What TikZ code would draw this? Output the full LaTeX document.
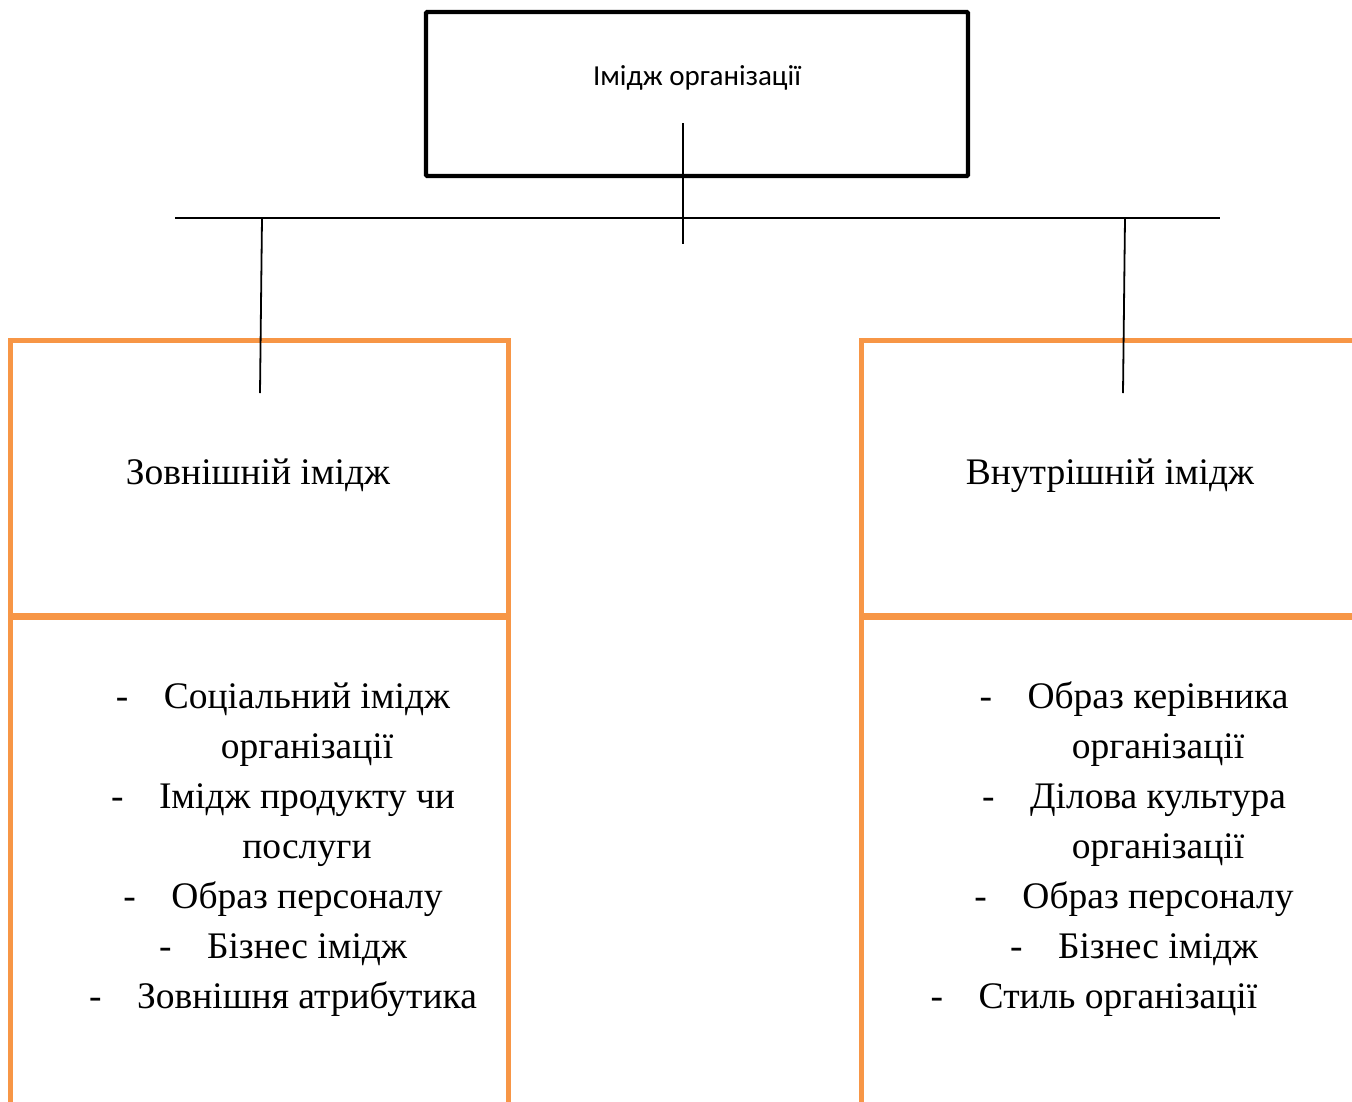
\documentclass[tikz,border=0pt]{standalone}
\usepackage{fontspec}
\setmainfont{Liberation Serif}
\newfontfamily\calfont{Carlito}
\usetikzlibrary{calc}
\definecolor{orng}{HTML}{F79646}
\begin{document}
\begin{tikzpicture}[x=1pt,y=-1pt,
  topbox/.style={draw=black, line width=4.2pt, rounded corners=1pt, minimum width=542pt, minimum height=164pt, inner sep=0pt},
  obox/.style={draw=orng, line width=5pt, inner sep=0pt},
  conn/.style={draw=black, line width=1.8pt},
  txt/.style={inner sep=0pt, anchor=base, font=\fontsize{37.5}{45}\selectfont},
  dashnode/.style={inner sep=0pt, anchor=base west, font=\fontsize{37.5}{45}\selectfont}
]
\useasboundingbox (0,0) rectangle (1352,1101);
\clip (0,0) rectangle (1352,1101);
% top box
\node[topbox] (top) at (697,94) {};
\node[inner sep=0pt, font=\calfont\fontsize{29}{34}\selectfont] (toptext) at (697,78) {Імідж організації};
% orange boxes
\node[obox, minimum width=498pt, minimum height=275pt] (lup) at (259,477.5) {};
\node[obox, minimum width=498pt, minimum height=505pt] (llow) at (259,870) {};
\node[obox, minimum width=509pt, minimum height=275pt] (rup) at (1115.5,477.5) {};
\node[obox, minimum width=509pt, minimum height=505pt] (rlow) at (1115.5,870) {};
% connectors
\coordinate (vtop) at (683,123);
\coordinate (vbot) at (683,244);
\coordinate (hl) at (175,218);
\coordinate (hr) at (1220,218);
\coordinate (ld1) at (262,218);
\coordinate (ld2) at (260,393);
\coordinate (rd1) at (1125,218);
\coordinate (rd2) at (1123,393);
\draw[conn] (vtop) -- (vbot);
\draw[conn] (hl) -- (hr);
\draw[conn] (ld1) -- (ld2);
\draw[conn] (rd1) -- (rd2);
% titles
\node[txt] (ltitle) at (258,484) {Зовнішній імідж};
\node[txt] (rtitle) at (1110,484) {Внутрішній імідж};
% left list
\node[txt] (l1) at (307,708) {Соціальний імідж};
\node[txt] (l2) at (307,758) {організації};
\node[txt] (l3) at (307,808) {Імідж продукту чи};
\node[txt] (l4) at (307,858) {послуги};
\node[txt] (l5) at (307,908) {Образ персоналу};
\node[txt] (l6) at (307,958) {Бізнес імідж};
\node[txt] (l7) at (307,1008) {Зовнішня атрибутика};
\foreach \n in {l1,l3,l5,l6,l7}
  \node[dashnode] (d\n) at ($(\n.base west)+(-48,0)$) {-};
% right list
\node[txt] (r1) at (1158,708) {Образ керівника};
\node[txt] (r2) at (1158,758) {організації};
\node[txt] (r3) at (1158,808) {Ділова культура};
\node[txt] (r4) at (1158,858) {організації};
\node[txt] (r5) at (1158,908) {Образ персоналу};
\node[txt] (r6) at (1158,958) {Бізнес імідж};
\node[txt] (r7) at (1118,1008) {Стиль організації};
\foreach \n in {r1,r3,r5,r6,r7}
  \node[dashnode] (d\n) at ($(\n.base west)+(-48,0)$) {-};
\end{tikzpicture}
\end{document}
